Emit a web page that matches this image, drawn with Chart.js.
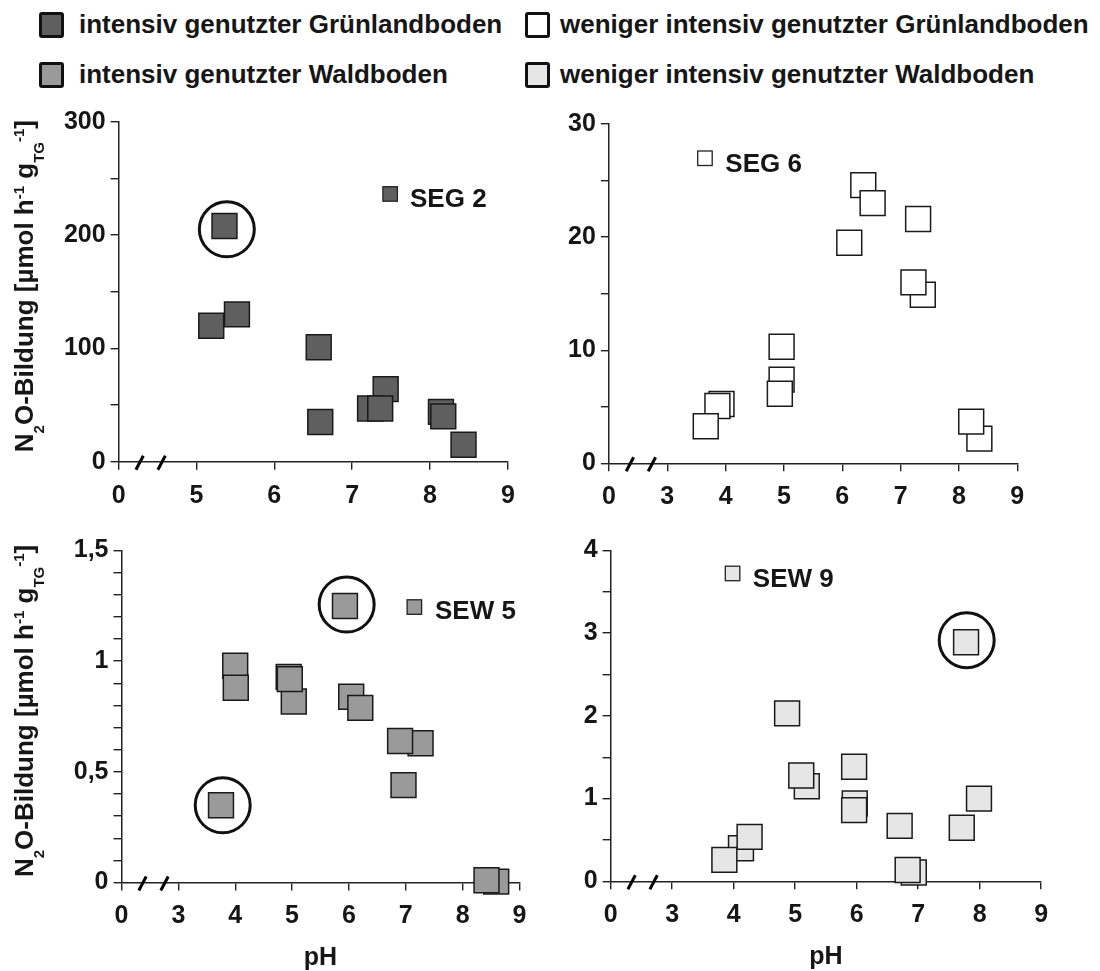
<!DOCTYPE html>
<html lang="de">
<head>
<meta charset="utf-8">
<title>N2O-Bildung und pH</title>
<script src="https://cdn.jsdelivr.net/npm/chart.js@4.4.1/dist/chart.umd.min.js"></script>
<style>
  html, body { margin: 0; padding: 0; background: #fff; }
  body { position: relative; width: 1100px; height: 971px; overflow: hidden;
         font-family: "Liberation Sans", Arial, sans-serif; color: #161616; }
  canvas { position: absolute; }
  .key { position: absolute; font-weight: bold; font-size: 26px; line-height: 26px; white-space: nowrap; }
  .key i { position: absolute; left: 0; top: 0; width: 19px; height: 20px; border: 3px solid #111; border-radius: 3px; }
  .key span { position: absolute; left: 40px; top: -1px; }
</style>
</head>
<body>
<div class="key" style="left:39px;top:12px"><i style="background:#5f5f5f"></i><span>intensiv genutzter Grünlandboden</span></div>
<div class="key" style="left:525px;top:12px"><i style="background:#fff"></i><span style="left:35px">weniger intensiv genutzter Grünlandboden</span></div>
<div class="key" style="left:39px;top:62px"><i style="background:#9a9a9a"></i><span>intensiv genutzter Waldboden</span></div>
<div class="key" style="left:525px;top:62px"><i style="background:#e6e6e6"></i><span style="left:35px">weniger intensiv genutzter Waldboden</span></div>

<canvas id="seg2"></canvas>
<canvas id="seg6"></canvas>
<canvas id="sew5"></canvas>
<canvas id="sew9"></canvas>

<script>
// pH / N2O-Bildung
const pH_SEG2  = [5.19, 5.52, 6.57, 6.59, 7.43, 7.23, 7.36, 8.14, 8.17, 8.43, 5.36];
const n2o_SEG2 = [120, 130, 101, 35, 64, 47, 47, 44, 40, 15, 208];

const pH_SEG6  = [6.36, 6.52, 7.30, 6.12, 7.38, 7.22, 4.96, 4.96, 4.93, 3.93, 3.86, 3.66, 8.35, 8.21];
const n2o_SEG6 = [24.6, 23.0, 21.6, 19.5, 14.9, 16.0, 10.3, 7.4, 6.15, 5.24, 5.07, 3.27, 2.18, 3.68];

const pH_SEW5  = [4.00, 4.01, 5.03, 4.94, 4.96, 6.04, 6.20, 7.26, 6.90, 6.96, 8.59, 8.42, 5.93, 3.75];
const n2o_SEW5 = [0.979, 0.880, 0.818, 0.929, 0.919, 0.839, 0.789, 0.629, 0.639, 0.440, 0.004, 0.01, 1.249, 0.349];

const pH_SEW9  = [7.78, 4.87, 5.96, 5.19, 5.10, 5.97, 5.96, 7.99, 6.70, 7.71, 4.12, 4.26, 3.85, 6.93, 6.83];
const n2o_SEW9 = [2.89, 2.03, 1.385, 1.15, 1.28, 0.94, 0.86, 1.0, 0.67, 0.647, 0.40, 0.537, 0.259, 0.106, 0.137];

// circled samples
const ringPH_SEG2 = [5.39],        ringN2O_SEG2 = [205];
const ringPH_SEG6 = [],            ringN2O_SEG6 = [];
const ringPH_SEW5 = [5.96, 3.78],  ringN2O_SEW5 = [1.256, 0.349];
const ringPH_SEW9 = [7.79],        ringN2O_SEW9 = [2.915];

// tick labels (first x position is the broken-axis "0")
const xLabelsSEG2 = ['0', '5', '6', '7', '8', '9'];
const xLabels     = ['0', '3', '4', '5', '6', '7', '8', '9'];
const yLabelsSEG2 = ['0', '100', '200', '300'];
const yLabelsSEG6 = ['0', '10', '20', '30'];
const yLabelsSEW5 = ['0', '0,5', '1', '1,5'];
const yLabelsSEW9 = ['0', '1', '2', '3', '4'];

const yTitle = [['N', 0], ['2', 1], ['O-Bildung [µmol h', 0], ['-1', -1], [' g', 0], ['TG', 1], ['-1', -1], [']', 0]];
const xTitle = 'pH';

const FONT = '"Liberation Sans", Arial, sans-serif';
const INK = '#161616';

function drawYTitle(ctx, bx, cy) {
  const big = 'bold 26px ' + FONT, small = 'bold 15px ' + FONT;
  ctx.save();
  let total = 0;
  yTitle.forEach(([t, k]) => { ctx.font = k ? small : big; total += ctx.measureText(t).width; });
  ctx.translate(bx, cy);
  ctx.rotate(-Math.PI / 2);
  ctx.fillStyle = INK;
  ctx.textBaseline = 'alphabetic';
  let x = -total / 2;
  yTitle.forEach(([t, k]) => {
    ctx.font = k ? small : big;
    ctx.fillText(t, x, k === 1 ? 11 : k === -1 ? -9 : 0);
    x += ctx.measureText(t).width;
  });
  ctx.restore();
}

function decor(p) {
  return {
    id: 'decor',
    afterDraw(chart) {
      const ctx = chart.ctx, a = chart.chartArea;
      // axis break
      ctx.save();
      ctx.strokeStyle = '#000';
      ctx.lineWidth = 3;
      [21, 43].forEach(off => {
        ctx.beginPath();
        ctx.moveTo(a.left + off - 3.7, a.bottom + 8);
        ctx.lineTo(a.left + off + 3.7, a.bottom - 6);
        ctx.stroke();
      });
      // series key inside the panel
      const [sx, sy, tx, ty] = p.key;
      ctx.fillStyle = p.fill;
      ctx.fillRect(a.left + sx, a.top + sy, 14.5, 14.5);
      ctx.strokeStyle = '#222';
      ctx.lineWidth = 1.3;
      ctx.strokeRect(a.left + sx, a.top + sy, 14.5, 14.5);
      ctx.fillStyle = INK;
      ctx.font = 'bold 26px ' + FONT;
      ctx.textAlign = 'left';
      ctx.textBaseline = 'alphabetic';
      ctx.fillText(p.name, a.left + tx, a.top + ty);
      if (p.xTitle) {
        ctx.font = 'bold 25px ' + FONT;
        ctx.textAlign = 'center';
        ctx.fillText(xTitle, (a.left + a.right) / 2, a.bottom + 82.5);
      }
      ctx.restore();
      if (p.yTitle) drawYTitle(ctx, 33.3 - p.box[0], (a.top + a.bottom) / 2 - 5.6);
    }
  };
}

function panel(p) {
  const cv = document.getElementById(p.id);
  const [bx, by, bw, bh] = p.box;
  cv.width = bw; cv.height = bh;
  cv.style.left = bx + 'px'; cv.style.top = by + 'px';
  const L = p.area[0] - bx, T = p.area[1] - by, R = p.area[2] - bx, B = p.area[3] - by;
  const tickFont = { family: FONT, size: 25, weight: 'bold' };
  const grid = { drawOnChartArea: false, drawTicks: true, tickLength: 8, color: '#222', lineWidth: 1.4 };
  const border = { color: '#222', width: 1.5 };

  new Chart(cv, {
    type: 'scatter',
    data: {
      datasets: [{
        label: p.name,
        data: p.x.map((v, i) => ({ x: v, y: p.y[i] })),
        pointStyle: 'rect',
        pointRadius: 17.6,
        pointBackgroundColor: p.fill,
        pointBorderColor: '#1a1a1a',
        pointBorderWidth: 1.5,
        clip: false
      }, {
        label: 'markiert',
        data: p.rx.map((v, i) => ({ x: v, y: p.ry[i] })),
        pointStyle: 'circle',
        pointRadius: 27.5,
        pointBackgroundColor: 'rgba(0,0,0,0)',
        pointBorderColor: '#111',
        pointBorderWidth: 3,
        clip: false
      }]
    },
    options: {
      responsive: false,
      animation: false,
      events: [],
      layout: { padding: { left: 0, top: T, right: bw - R, bottom: 0 } },
      plugins: { legend: { display: false }, tooltip: { enabled: false } },
      scales: {
        x: {
          type: 'linear', min: p.xMin, max: 9,
          afterFit: s => { s.height = bh - B; },
          ticks: { stepSize: 1, autoSkip: false, maxRotation: 0, padding: 11, color: INK, font: tickFont,
                   callback: (v, i) => p.xLabels[i] },
          grid: grid, border: border
        },
        y: {
          type: 'linear', min: 0, max: p.yMax,
          afterFit: s => { s.width = L; },
          ticks: { stepSize: p.yMinor, autoSkip: false, padding: 5, color: INK, font: tickFont,
                   callback: v => {
                     const k = Math.round(v / p.yMajor);
                     return Math.abs(v - k * p.yMajor) < 1e-6 ? p.yLabels[k] : '';
                   } },
          grid: grid, border: border
        }
      }
    },
    plugins: [decor(p)]
  });
}

panel({ id: 'seg2', box: [0, 90, 550, 440], area: [118.6, 121.7, 507.9, 461.7],
        xMin: 4, xLabels: xLabelsSEG2, yMax: 300, yMinor: 50, yMajor: 100, yLabels: yLabelsSEG2,
        x: pH_SEG2, y: n2o_SEG2, rx: ringPH_SEG2, ry: ringN2O_SEG2, fill: '#5f5f5f',
        name: 'SEG 2', key: [264.3, 65, 291.4, 85.6], yTitle: true, xTitle: false });

panel({ id: 'seg6', box: [550, 90, 550, 440], area: [608.9, 124, 1017.3, 463.3],
        xMin: 2, xLabels: xLabels, yMax: 30, yMinor: 5, yMajor: 10, yLabels: yLabelsSEG6,
        x: pH_SEG6, y: n2o_SEG6, rx: ringPH_SEG6, ry: ringN2O_SEG6, fill: '#ffffff',
        name: 'SEG 6', key: [88.8, 27, 116.4, 47.7], yTitle: false, xTitle: false });

panel({ id: 'sew5', box: [0, 520, 550, 451], area: [121.5, 540.7, 538.5, 882.5],
        xMin: 2, xLabels: xLabels, yMax: 1.5, yMinor: 0.1, yMajor: 0.5, yLabels: yLabelsSEW5,
        x: pH_SEW5, y: n2o_SEW5, rx: ringPH_SEW5, ry: ringN2O_SEW5, fill: '#9a9a9a',
        name: 'SEW 5', key: [285.6, 49.3, 313.5, 68.3], yTitle: true, xTitle: true });

panel({ id: 'sew9', box: [550, 520, 550, 451], area: [610.6, 541, 1041.1, 881.3],
        xMin: 2, xLabels: xLabels, yMax: 4, yMinor: 0.5, yMajor: 1, yLabels: yLabelsSEW9,
        x: pH_SEW9, y: n2o_SEW9, rx: ringPH_SEW9, ry: ringN2O_SEW9, fill: '#e6e6e6',
        name: 'SEW 9', key: [114.7, 15.7, 142.2, 36.7], yTitle: false, xTitle: true });
</script>
</body>
</html>
